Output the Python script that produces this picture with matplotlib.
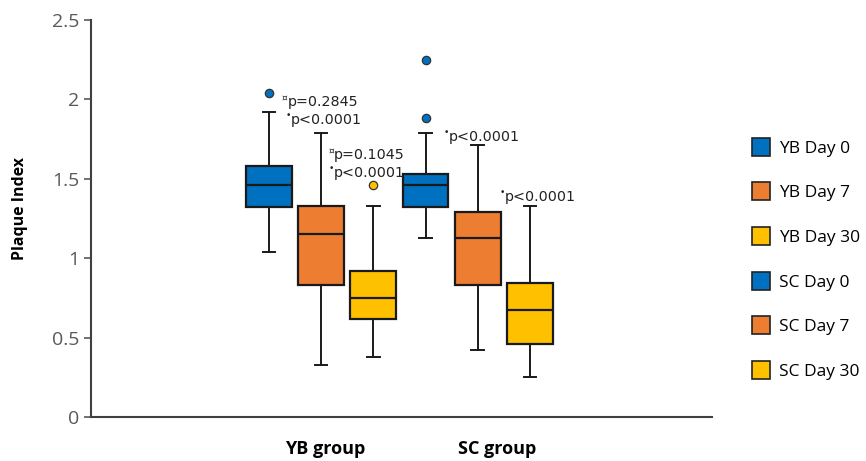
import matplotlib
matplotlib.use("Agg")
import matplotlib.pyplot as plt
from matplotlib.lines import Line2D

# box statistics (Plaque Index)
labels = ["YB Day 0", "YB Day 7", "YB Day 30", "SC Day 0", "SC Day 7", "SC Day 30"]
whislo = [1.04, 0.33, 0.38, 1.13, 0.42, 0.25]
q1 = [1.32, 0.83, 0.62, 1.32, 0.83, 0.46]
med = [1.46, 1.15, 0.75, 1.46, 1.13, 0.675]
q3 = [1.58, 1.33, 0.92, 1.53, 1.29, 0.845]
whishi = [1.92, 1.79, 1.33, 1.79, 1.71, 1.33]
fliers = [[2.04], [], [1.46], [2.25, 1.88], [], []]
colors = ["#0070C0", "#ED7D31", "#FFC000", "#0070C0", "#ED7D31", "#FFC000"]

groups = ["YB group", "SC group"]
group_x = [2.07, 5.37]

# p-value notes: (x, y, symbol, text)
notes = [
    (1.36, 1.985, "¤", "p=0.2845"),
    (1.42, 1.87, "•", "p<0.0001"),
    (2.25, 1.65, "¤", "p=0.1045"),
    (2.25, 1.537, "•", "p<0.0001"),
    (4.45, 1.763, "•", "p<0.0001"),
    (5.52, 1.385, "•", "p<0.0001"),
]

fig = plt.figure(figsize=(8.66, 4.61), dpi=100)
ax = fig.add_axes([91 / 866, 44 / 461, 621 / 866, 397 / 461])

stats = []
for i in range(len(labels)):
    stats.append(dict(label=labels[i], whislo=whislo[i], q1=q1[i], med=med[i],
                      q3=q3[i], whishi=whishi[i], fliers=fliers[i]))

positions = list(range(1, len(labels) + 1))
bp = ax.bxp(stats, positions=positions, widths=0.88, patch_artist=True,
            capwidths=0.24,
            boxprops=dict(edgecolor="#1a1a1a", linewidth=1.6),
            medianprops=dict(color="#1a1a1a", linewidth=1.6),
            whiskerprops=dict(color="#1a1a1a", linewidth=1.4),
            capprops=dict(color="#1a1a1a", linewidth=1.4))
for patch, c in zip(bp["boxes"], colors):
    patch.set_facecolor(c)
for fl, c in zip(bp["fliers"], colors):
    fl.set(marker="o", markerfacecolor=c, markeredgecolor="#333333",
           markersize=6, markeredgewidth=0.9)

for x, y, sym, txt in notes:
    ax.text(x, y, txt, ha="left", va="center", fontsize=10.3,
            family="DejaVu Sans", color="#222222")
    ax.annotate(sym, (x, y), xytext=(0, 3), textcoords="offset points",
                ha="right", va="center", fontsize=6.5, color="#222222")

ax.set_xlim(-2.41, 9.49)
ax.set_ylim(0, 2.5)
ax.set_yticks([0, 0.5, 1, 1.5, 2, 2.5])
ax.set_yticklabels(["0", "0.5", "1", "1.5", "2", "2.5"])
ax.set_xticks([])
ax.tick_params(axis="y", colors="#595959", labelsize=14, length=5, width=1.2)
for lab in ax.get_yticklabels():
    lab.set_family("Open Sans")
for side in ["top", "right"]:
    ax.spines[side].set_visible(False)
for side in ["left", "bottom"]:
    ax.spines[side].set_color("#404040")
    ax.spines[side].set_linewidth(1.5)

ax.set_ylabel("Plaque Index", fontsize=11.5, fontweight="bold",
              family="Open Sans")
ax.yaxis.set_label_coords(-0.101, 0.524)

for gx, g in zip(group_x, groups):
    ax.text(gx, -0.2, g, ha="center", va="center", fontsize=13,
            fontweight="bold", family="Open Sans")

handles = [Line2D([], [], linestyle="none", marker="s", markersize=13,
                  markerfacecolor=c, markeredgecolor="#222222",
                  markeredgewidth=1.2) for c in colors]
fig.legend(handles, labels, loc="upper left", bbox_to_anchor=(737 / 866, 1 - 125 / 461),
           frameon=False, handlelength=1.0, handletextpad=0.5,
           labelspacing=1.64, prop=dict(family="Open Sans", size=12.5))

fig.savefig("out.png", dpi=100)
